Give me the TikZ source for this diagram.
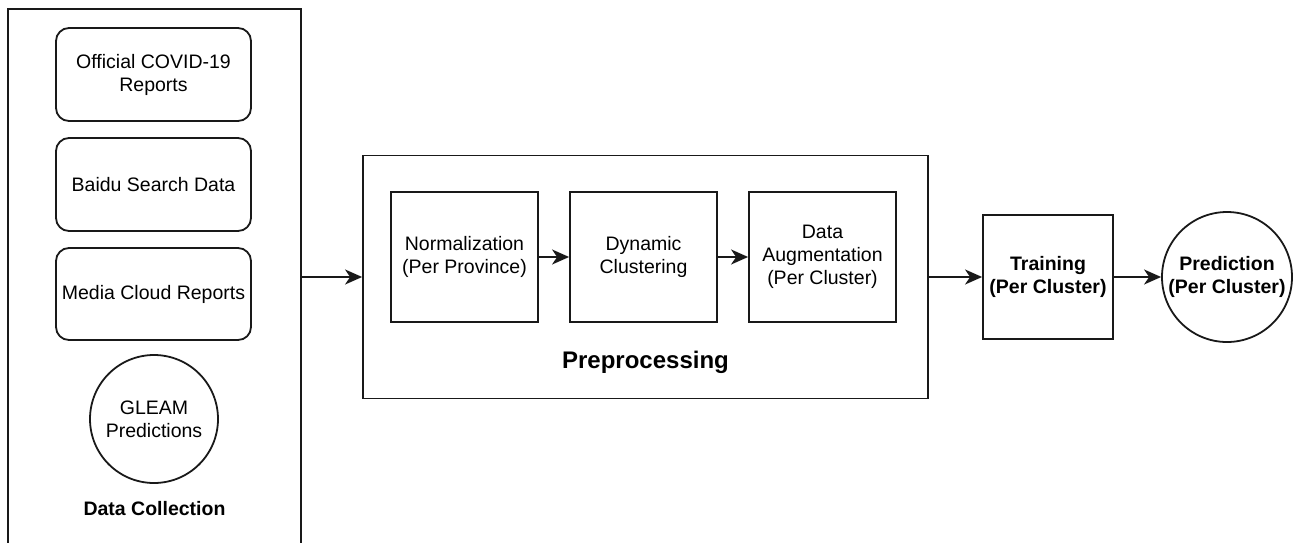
\documentclass[tikz,border=0pt]{standalone}
\usepackage{fontspec}
\setmainfont{Liberation Sans}
\usetikzlibrary{arrows.meta,positioning}

\tikzset{
    box/.style={draw=black!90, line width=1.8pt, rectangle, align=center,
        minimum width=147pt, minimum height=130pt, inner sep=2pt},
    source/.style={box, rounded corners=13pt, minimum width=195pt, minimum height=93pt},
    roundbox/.style={draw=black!90, line width=1.8pt, circle, align=center, inner sep=0pt},
    frame/.style={draw=black!90, line width=1.8pt, rectangle, inner sep=0pt},
    link/.style={draw=black!90, line width=1.8pt, -{Stealth[length=17pt,width=15pt,inset=5pt]}}
}

\begin{document}
\begin{tikzpicture}[x=1pt, y=-1pt, font=\fontsize{19.5}{23}\selectfont]
    %--------------------%
    % Page
    %--------------------%
    \path[use as bounding box, clip] (0,0) rectangle (1293,542);

    %--------------------%
    % Data Collection
    %--------------------%
    \node[frame, minimum width=293pt, minimum height=536pt] (collect) at (154.5,277) {};
    \node[source] (official) at (153.5,74.5) {Official COVID-19\\Reports};
    \node[source] (baidu) at (153.5,184.5) {Baidu Search Data};
    \node[source, minimum height=92pt] (media) at (153.5,294) {Media Cloud Reports};
    \node[roundbox, minimum size=128pt] (gleam) at (154,419) {GLEAM\\Predictions};
    \node[font=\fontsize{19.5}{23}\selectfont\bfseries] (collectlabel) at (154.5,509) {Data Collection};

    %--------------------%
    % Preprocessing
    %--------------------%
    \node[frame, minimum width=565pt, minimum height=243pt] (preproc) at (645.5,277) {};
    \node[box] (norm) at (464.5,257) {Normalization\\(Per Province)};
    \node[box] (cluster) at (643.5,257) {Dynamic\\Clustering};
    \node[box] (augment) at (822.5,257) {Data\\Augmentation\\(Per Cluster)};
    \node[font=\fontsize{24}{28}\selectfont\bfseries] (preproclabel) at (645.5,362) {Preprocessing};

    %--------------------%
    % Training and Prediction
    %--------------------%
    \node[box, minimum width=130pt, minimum height=124pt, font=\fontsize{19.5}{23}\selectfont\bfseries] (train) at (1048,277) {Training\\(Per Cluster)};
    \node[roundbox, minimum size=130pt, font=\fontsize{19.5}{23}\selectfont\bfseries] (predict) at (1227,277) {Prediction\\(Per Cluster)};

    %--------------------%
    % Connections
    %--------------------%
    \draw[link] (collect) -- (preproc);
    \draw[link] (norm) -- (cluster);
    \draw[link] (cluster) -- (augment);
    \draw[link] (preproc) -- (train);
    \draw[link] (train) -- (predict);
\end{tikzpicture}
\end{document}
